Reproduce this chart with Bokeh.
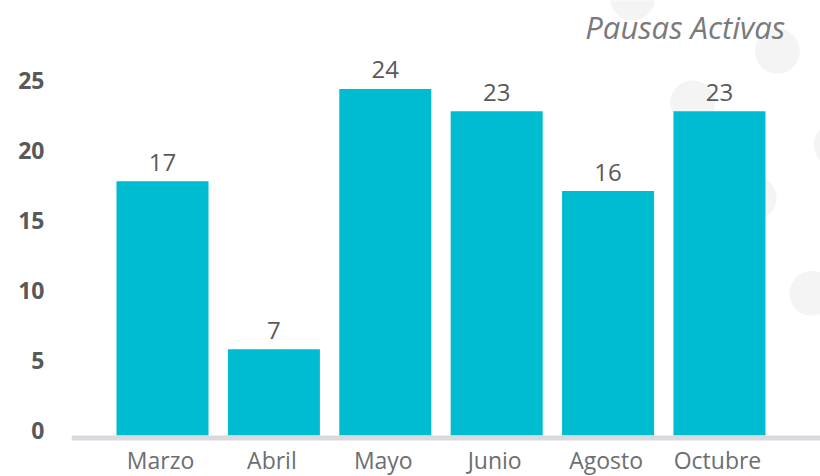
from bokeh.plotting import figure
from bokeh.models import FixedTicker, Span, Label, ColumnDataSource
from bokeh.core.properties import value
from bokeh.embed import file_html
from bokeh.resources import INLINE

# ---- data ----
months = ["Marzo", "Abril", "Mayo", "Junio", "Agosto", "Octubre"]
bar_heights = [17.8, 5.8, 24.4, 22.8, 17.1, 22.8]   # bar heights as drawn
bar_labels = ["17", "7", "24", "23", "16", "23"]      # value labels as printed
y_ticks = [0, 5, 10, 15, 20, 25]
title_text = "Pausas Activas"

# decorative background bubbles (data coords)
deco_x = [4.22, 5.52, 4.76, 6.05, 5.31, 5.83]
deco_y = [30.9, 27.1, 23.4, 20.4, 16.6, 9.8]

idx = list(range(len(months)))
baseline = -0.36
month_row = -2.1

src = ColumnDataSource(dict(x=idx, top=bar_heights, lab=bar_labels, month=months,
                            mrow=[month_row] * len(months)))

p = figure(width=820, height=476, output_backend="svg", toolbar_location=None,
           x_range=(-0.817, 5.907), y_range=(-3.286, 30.714),
           x_axis_location=None,
           min_border_left=71, min_border_right=0, min_border_top=0, min_border_bottom=0)
p.outline_line_color = None
p.grid.visible = False
p.background_fill_color = "white"
p.border_fill_color = "white"

p.scatter(deco_x, deco_y, size=45, marker="circle", fill_color="#f4f4f5", line_color=None)

p.vbar(x="x", top="top", bottom=baseline, width=0.826, source=src,
       fill_color="#00bcd0", line_color=None)

p.add_layout(Span(location=-0.536, dimension="width", line_color="#d9dadf", line_width=5))

p.text(x="x", y="top", text="lab", source=src, y_offset=-19,
       text_align="center", text_baseline="alphabetic",
       text_font=value("Open Sans"), text_font_size="24px", text_color="#595959")

# category labels under the baseline
p.text(x="x", y="mrow", text="month", source=src, x_offset=-2,
       text_align="center", text_baseline="middle",
       text_font=value("Open Sans"), text_font_size="23px", text_color="#6d6e71")

p.add_layout(Label(x=5.59, y=28.79, text=title_text, text_align="right",
                   text_baseline="alphabetic", text_font="Open Sans",
                   text_font_style="italic", text_font_size="31px", text_color="#7a7a7d"))

# y axis
p.yaxis.ticker = FixedTicker(ticks=y_ticks)
p.yaxis.axis_line_color = None
p.yaxis.major_tick_line_color = None
p.yaxis.minor_tick_line_color = None
p.yaxis.major_label_standoff = 21
p.yaxis.major_label_text_font = "Open Sans"
p.yaxis.major_label_text_font_style = "bold"
p.yaxis.major_label_text_font_size = "23px"
p.yaxis.major_label_text_color = "#595959"

open("out.html", "w").write(file_html(p, INLINE))
